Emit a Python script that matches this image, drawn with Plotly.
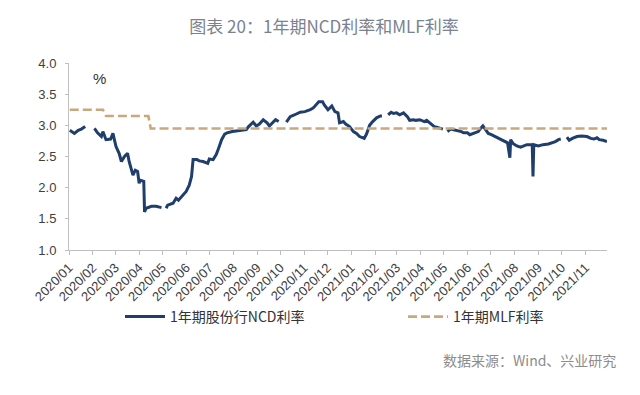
import plotly.graph_objects as go

# ---- data ----
ncd_dates = [
    "2020-01-02", "2020-01-08", "2020-01-13", "2020-01-17", "2020-01-22",
    "2020-01-28",
    "2020-02-03", "2020-02-07", "2020-02-12", "2020-02-14", "2020-02-18", "2020-02-24", "2020-02-27",
    "2020-03-02", "2020-03-06", "2020-03-09", "2020-03-13", "2020-03-17", "2020-03-19", "2020-03-24",
    "2020-03-27", "2020-03-30",
    "2020-04-01", "2020-04-02", "2020-04-07", "2020-04-08", "2020-04-10", "2020-04-17", "2020-04-23",
    "2020-04-30",
    "2020-05-03",
    "2020-05-06", "2020-05-08", "2020-05-15", "2020-05-19", "2020-05-22", "2020-05-28",
    "2020-06-01", "2020-06-05", "2020-06-08", "2020-06-10", "2020-06-15", "2020-06-18", "2020-06-23",
    "2020-06-29",
    "2020-07-01", "2020-07-06", "2020-07-10", "2020-07-13", "2020-07-17", "2020-07-21", "2020-07-24",
    "2020-07-31",
    "2020-08-10", "2020-08-18", "2020-08-21", "2020-08-27", "2020-08-31",
    "2020-09-04", "2020-09-09", "2020-09-14", "2020-09-17", "2020-09-22", "2020-09-25", "2020-09-29",
    "2020-10-04",
    "2020-10-09", "2020-10-14", "2020-10-20", "2020-10-27",
    "2020-11-02", "2020-11-09", "2020-11-13", "2020-11-17", "2020-11-20", "2020-11-25", "2020-11-27",
    "2020-12-02", "2020-12-07", "2020-12-11", "2020-12-15", "2020-12-17", "2020-12-22", "2020-12-25",
    "2020-12-30",
    "2021-01-04", "2021-01-08", "2021-01-12", "2021-01-18", "2021-01-21", "2021-01-25", "2021-01-29",
    "2021-02-03", "2021-02-08", "2021-02-10",
    "2021-02-14",
    "2021-02-18", "2021-02-22", "2021-02-25",
    "2021-03-01", "2021-03-05", "2021-03-10", "2021-03-15", "2021-03-18", "2021-03-23", "2021-03-26",
    "2021-03-31",
    "2021-04-06", "2021-04-09", "2021-04-13", "2021-04-19", "2021-04-22", "2021-04-30",
    "2021-05-03",
    "2021-05-06", "2021-05-10", "2021-05-14", "2021-05-19", "2021-05-24", "2021-05-27",
    "2021-06-01", "2021-06-04", "2021-06-09", "2021-06-15", "2021-06-18", "2021-06-21", "2021-06-24",
    "2021-06-28",
    "2021-07-02", "2021-07-07", "2021-07-12", "2021-07-16", "2021-07-20", "2021-07-23", "2021-07-26",
    "2021-07-27", "2021-07-30",
    "2021-08-04", "2021-08-09", "2021-08-13", "2021-08-17", "2021-08-20", "2021-08-24", "2021-08-25",
    "2021-08-26",
    "2021-09-01", "2021-09-07", "2021-09-14", "2021-09-17", "2021-09-23", "2021-09-27", "2021-09-30",
    "2021-10-04",
    "2021-10-08", "2021-10-11", "2021-10-15", "2021-10-21", "2021-10-27",
    "2021-11-03", "2021-11-08", "2021-11-12", "2021-11-16", "2021-11-19", "2021-11-24", "2021-11-29",
]
ncd_values = [
    2.92, 2.87, 2.92, 2.94, 2.98,
    None,
    2.95, 2.88, 2.82, 2.90, 2.77, 2.78, 2.87,
    2.66, 2.55, 2.42, 2.50, 2.55, 2.42, 2.20,
    2.28, 2.26,
    2.07, 2.12, 2.10, 1.61, 1.67, 1.70, 1.70,
    1.68,
    None,
    1.67, 1.72, 1.75, 1.83, 1.80, 1.88,
    1.94, 2.04, 2.18, 2.45, 2.45, 2.43, 2.42,
    2.39,
    2.46, 2.45, 2.53, 2.63, 2.77, 2.86, 2.88,
    2.90,
    2.92, 2.93, 2.98, 3.05, 2.99,
    3.02, 3.09, 3.04, 2.99, 3.06, 3.09, 3.06,
    None,
    3.05, 3.14, 3.17, 3.21,
    3.22, 3.25, 3.28, 3.33, 3.38, 3.38, 3.33,
    3.25, 3.31, 3.22, 3.20, 3.04, 3.06, 3.02,
    2.98,
    2.90, 2.87, 2.82, 2.79, 2.86, 3.00, 3.06,
    3.12, 3.15, 3.15,
    None,
    3.17, 3.21, 3.19,
    3.20, 3.17, 3.20, 3.14, 3.08, 3.09, 3.08,
    3.09,
    3.06, 3.08, 3.04, 2.98, 2.97, 2.94,
    None,
    2.90, 2.94, 2.93, 2.92, 2.90, 2.88,
    2.88, 2.85, 2.87, 2.90, 2.95, 2.99, 2.94,
    2.87,
    2.85, 2.82, 2.79, 2.77, 2.74, 2.72, 2.48,
    2.77, 2.71,
    2.67, 2.65, 2.67, 2.69, 2.69, 2.69, 2.18,
    2.69,
    2.67, 2.69, 2.70, 2.71, 2.74, 2.77, 2.78,
    None,
    2.81, 2.76, 2.79, 2.82, 2.83,
    2.82, 2.79, 2.78, 2.80, 2.77, 2.76, 2.74,
]

mlf_dates = ["2020-01-02", "2020-02-14", "2020-02-18", "2020-04-13", "2020-04-16", "2021-11-29"]
mlf_values = [3.25, 3.25, 3.15, 3.15, 2.95, 2.95]

y_ticks = [1.0, 1.5, 2.0, 2.5, 3.0, 3.5, 4.0]
x_range = ["2020-01-01", "2021-11-29"]

series_names = ["1年期股份行NCD利率", "1年期MLF利率"]
title_text = "图表 20：1年期NCD利率和MLF利率"
source_text = "数据来源：Wind、兴业研究"

# ---- figure ----
# The page body has an 8px default margin, so the figure is sized 632x387
# and the margins are reduced by 8px to keep the plot area where it belongs.
W, H = 632, 387
fig = go.Figure()
fig.add_trace(go.Scatter(
    x=ncd_dates, y=ncd_values, mode="lines", name=series_names[0],
    line=dict(color="#1f3e6c", width=3), connectgaps=False, legend="legend",
))
fig.add_trace(go.Scatter(
    x=mlf_dates, y=mlf_values, mode="lines", name=series_names[1],
    line=dict(color="#c9a97c", width=2.6, dash="9px,4px"), legend="legend2",
))

axis_font = dict(family="Liberation Sans, Arial, sans-serif", size=13, color="#404040")
legend_font = dict(family="Noto Sans CJK SC", size=14, color="#333333")

fig.update_layout(
    width=W, height=H,
    margin=dict(l=61, r=33, t=55, b=145),
    paper_bgcolor="white", plot_bgcolor="white",
    title=dict(text=title_text, x=0.5, xanchor="center", y=1 - 19.5 / H, yanchor="middle",
               font=dict(family="Noto Sans CJK SC", size=17, color="#7a8290")),
    xaxis=dict(
        type="date", range=x_range, tick0="2020-01-01", dtick="M1", tickformat="%Y/%m",
        tickangle=-45, ticks="outside", ticklen=4, tickcolor="#bfbfbf",
        showline=True, linecolor="#bfbfbf", linewidth=1, showgrid=False, zeroline=False,
        tickfont=axis_font,
    ),
    yaxis=dict(
        range=[1.0, 4.0], tickvals=y_ticks, tickformat=".1f",
        ticks="outside", ticklen=3, tickcolor="#bfbfbf",
        showline=True, linecolor="#bfbfbf", linewidth=1, showgrid=False, zeroline=False,
        tickfont=axis_font, ticklabelstandoff=6,
    ),
    legend=dict(
        orientation="h", x=(120 - 69) / 538, xanchor="left", y=(250 - 317) / 187, yanchor="middle",
        itemwidth=40, font=legend_font, bgcolor="rgba(0,0,0,0)",
    ),
    legend2=dict(
        orientation="h", x=(403 - 69) / 538, xanchor="left", y=(250 - 317) / 187, yanchor="middle",
        itemwidth=40, font=legend_font, bgcolor="rgba(0,0,0,0)",
    ),
    showlegend=True,
)

fig.add_annotation(
    text="%", xref="paper", yref="paper", x=(99 - 69) / 538, y=(250 - 78) / 187,
    xanchor="center", yanchor="middle", showarrow=False,
    font=dict(family="Liberation Sans, Arial, sans-serif", size=15, color="#333333"),
)
fig.add_annotation(
    text=source_text, xref="paper", yref="paper", x=(618 - 69) / 538, y=(250 - 360) / 187,
    xanchor="right", yanchor="middle", showarrow=False,
    font=dict(family="Noto Sans CJK SC", size=14, color="#8c8c8c"),
)

fig.write_html("out.html")
